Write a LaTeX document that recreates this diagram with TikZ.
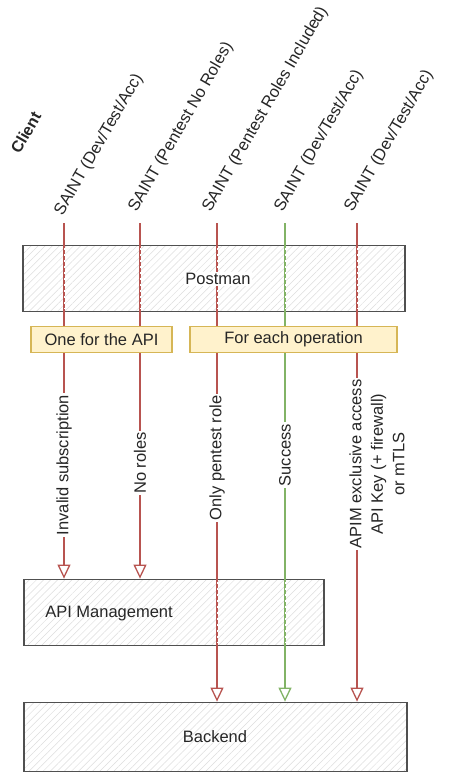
\documentclass[tikz,border=0pt]{standalone}
\usepackage{fontspec}
\setmainfont{Liberation Sans}
\usetikzlibrary{arrows.meta,patterns.meta}
\definecolor{redl}{HTML}{B85450}
\definecolor{greenl}{HTML}{82B366}
\definecolor{boxd}{HTML}{505050}
\definecolor{yelf}{HTML}{FFF2CC}
\definecolor{yeld}{HTML}{D6B656}
\definecolor{txt}{HTML}{262626}
\begin{document}
\begin{tikzpicture}[x=1pt,y=-1pt, font=\fontsize{16.5}{21.5}\selectfont, text=txt,
 graybox/.style={draw=boxd, line width=1.8pt, pattern={Lines[angle=45,distance=5pt,line width=0.5pt]}, pattern color=black!13, inner sep=0},
 notebox/.style={draw=yeld, fill=yelf, line width=1.4pt, inner sep=0, minimum height=26pt},
 conn/.style={line width=1.3pt, -{Triangle[open,length=14pt,width=13pt,line width=1.3pt]}},
 lbl/.style={fill=white, inner sep=1.5pt, rotate=90},
 toplbl/.style={rotate=60, anchor=base west, inner sep=0},
 hatch/.style={white, line width=0.8pt, dash pattern=on 2pt off 4pt},
 plain/.style={inner sep=1.5pt}]
\useasboundingbox (0,0) rectangle (468,779);
\fill[white] (0,0) rectangle (468,779);

% boxes
\node[graybox, minimum width=382pt, minimum height=66pt] (postman) at (214,278.5) {};
\node[graybox, minimum width=300pt, minimum height=66pt] (apim) at (174,612.5) {};
\node[graybox, minimum width=383pt, minimum height=69pt] (backend) at (215.5,737) {};

% client labels
\node[toplbl, font=\fontsize{16}{19}\selectfont\bfseries] (client) at (19.5,155) {Client};
\node[toplbl] (c1) at (62.5,216.5) {SAINT (Dev/Test/Acc)};
\node[toplbl] (c2) at (136.5,213) {SAINT (Pentest No Roles)};
\node[toplbl] (c3) at (210.5,213) {SAINT (Pentest Roles Included)};
\node[toplbl] (c4) at (282.5,213) {SAINT (Dev/Test/Acc)};
\node[toplbl] (c5) at (352.5,213) {SAINT (Dev/Test/Acc)};

\coordinate (s1) at (64,223);
\coordinate (s2) at (140,223);
\coordinate (s3) at (217,223);
\coordinate (s4) at (285,223);
\coordinate (s5) at (357,223);

% connectors
\draw[conn, redl] (s1) -- (s1 |- apim.north);
\draw[conn, redl] (s2) -- (s2 |- apim.north);
\draw[conn, redl] (s3) -- (s3 |- backend.north);
\draw[conn, greenl] (s4) -- (s4 |- backend.north);
\draw[conn, redl] (s5) -- (s5 |- backend.north);

% hachure crossing the connectors inside boxes
\foreach \s in {s1,s2,s3,s4,s5}
  \draw[hatch] ([yshift=-3pt]\s |- postman.north) -- ([yshift=3pt]\s |- postman.south);
\foreach \s in {s3,s4}
  \draw[hatch] ([yshift=-3pt]\s |- apim.north) -- ([yshift=3pt]\s |- apim.south);

% box texts
\node[plain, fill=white] (postmanlbl) at (218,279) {Postman};
\node[plain] (apimlbl) at (109,614) {API Management};
\node[plain] (backendlbl) at (215,737) {Backend};

% connector labels
\node[lbl] (l1) at (64,465) {Invalid subscription};
\node[lbl] (l2) at (140,463) {No roles};
\node[lbl] (l3) at (217,458) {Only pentest role};
\node[lbl] (l4) at (285,455) {Success};
\node[lbl, align=center] (l5) at (377,464) {APIM exclusive access\\API Key (+ firewall)\\or mTLS};

% notes
\node[notebox, minimum width=141pt] (note1) at (101.5,339.5) {One for the API};
\node[notebox, minimum width=207pt] (note2) at (293.5,339.5) {For each operation};
\end{tikzpicture}
\end{document}
